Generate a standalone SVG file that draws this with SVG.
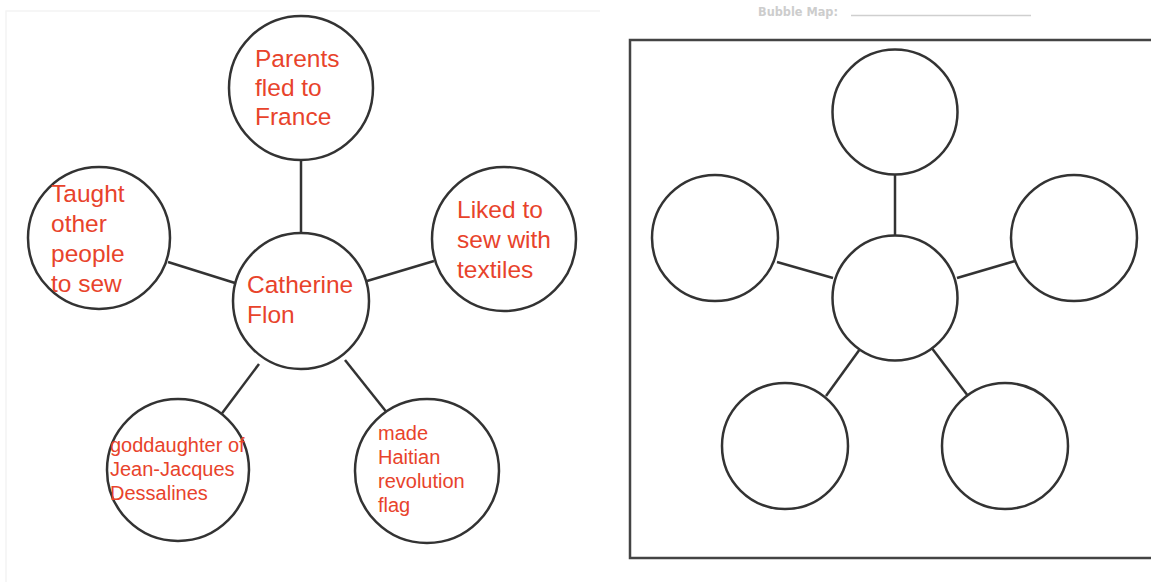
<svg xmlns="http://www.w3.org/2000/svg" width="1151" height="582" viewBox="0 0 1151 582">
<style>
.bub{fill:#fff;stroke:#333;stroke-width:2.5}
.con line{stroke:#333;stroke-width:2.5}
.big{font-family:"Liberation Sans",Arial,sans-serif;font-size:24.5px;fill:#e8432b}
.small{font-family:"Liberation Sans",Arial,sans-serif;font-size:20px;fill:#e8432b}
</style>
<rect x="0" y="0" width="1151" height="582" fill="#fff"/>
<path d="M6 582V11H600" fill="none" stroke="#f4f4f4" stroke-width="1.5"/>
<g id="title">
<text x="758" y="16" font-family="'DejaVu Sans',sans-serif" font-size="12" font-weight="bold" fill="#cdcdcd" textLength="80" lengthAdjust="spacingAndGlyphs">Bubble Map:</text>
<line x1="851" y1="15.5" x2="1031" y2="15.5" stroke="#cfcfcf" stroke-width="1.5"/>
</g>
<rect id="frame" x="630" y="40" width="540" height="518" fill="none" stroke="#444" stroke-width="2.5"/>
<g id="connectors" class="con">
<line x1="301" y1="160" x2="301" y2="232"/>
<line x1="168" y1="262" x2="235" y2="283"/>
<line x1="367" y1="281" x2="434" y2="261"/>
<line x1="259" y1="364" x2="220" y2="416"/>
<line x1="345" y1="360" x2="388" y2="414"/>
<line x1="895" y1="174" x2="895" y2="236"/>
<line x1="777" y1="262" x2="833" y2="278"/>
<line x1="957" y1="278" x2="1015" y2="261"/>
<line x1="860" y1="349" x2="826" y2="396"/>
<line x1="931" y1="347" x2="968" y2="396"/>
</g>
<g id="n-top"><circle class="bub" cx="301" cy="88" r="72"/>
<text class="big" x="255" y="67">Parents</text><text class="big" x="255" y="96">fled to</text><text class="big" x="255" y="125">France</text></g>
<g id="n-left"><circle class="bub" cx="99" cy="238" r="71"/>
<text class="big" x="51" y="202">Taught</text><text class="big" x="51" y="232">other</text><text class="big" x="51" y="262">people</text><text class="big" x="51" y="292">to sew</text></g>
<g id="n-right"><circle class="bub" cx="504" cy="239" r="72"/>
<text class="big" x="457" y="218">Liked to</text><text class="big" x="457" y="248">sew with</text><text class="big" x="457" y="278">textiles</text></g>
<g id="n-center"><circle class="bub" cx="301" cy="301" r="68"/>
<text class="big" x="247" y="293">Catherine</text><text class="big" x="247" y="323">Flon</text></g>
<g id="n-bl"><circle class="bub" cx="178" cy="470" r="71"/>
<text class="small" x="110" y="452">goddaughter of</text><text class="small" x="110" y="476">Jean-Jacques</text><text class="small" x="110" y="500">Dessalines</text></g>
<g id="n-br"><circle class="bub" cx="427" cy="471" r="72"/>
<text class="small" x="378" y="440">made</text><text class="small" x="378" y="464">Haitian</text><text class="small" x="378" y="488">revolution</text><text class="small" x="378" y="512">flag</text></g>
<g id="m-top"><circle class="bub" cx="895" cy="112" r="62.5"/></g>
<g id="m-left"><circle class="bub" cx="715" cy="238" r="63"/></g>
<g id="m-right"><circle class="bub" cx="1074" cy="238" r="63"/></g>
<g id="m-center"><circle class="bub" cx="895" cy="298" r="62.5"/></g>
<g id="m-bl"><circle class="bub" cx="785" cy="446" r="63"/></g>
<g id="m-br"><circle class="bub" cx="1005" cy="446" r="63"/></g>
</svg>
